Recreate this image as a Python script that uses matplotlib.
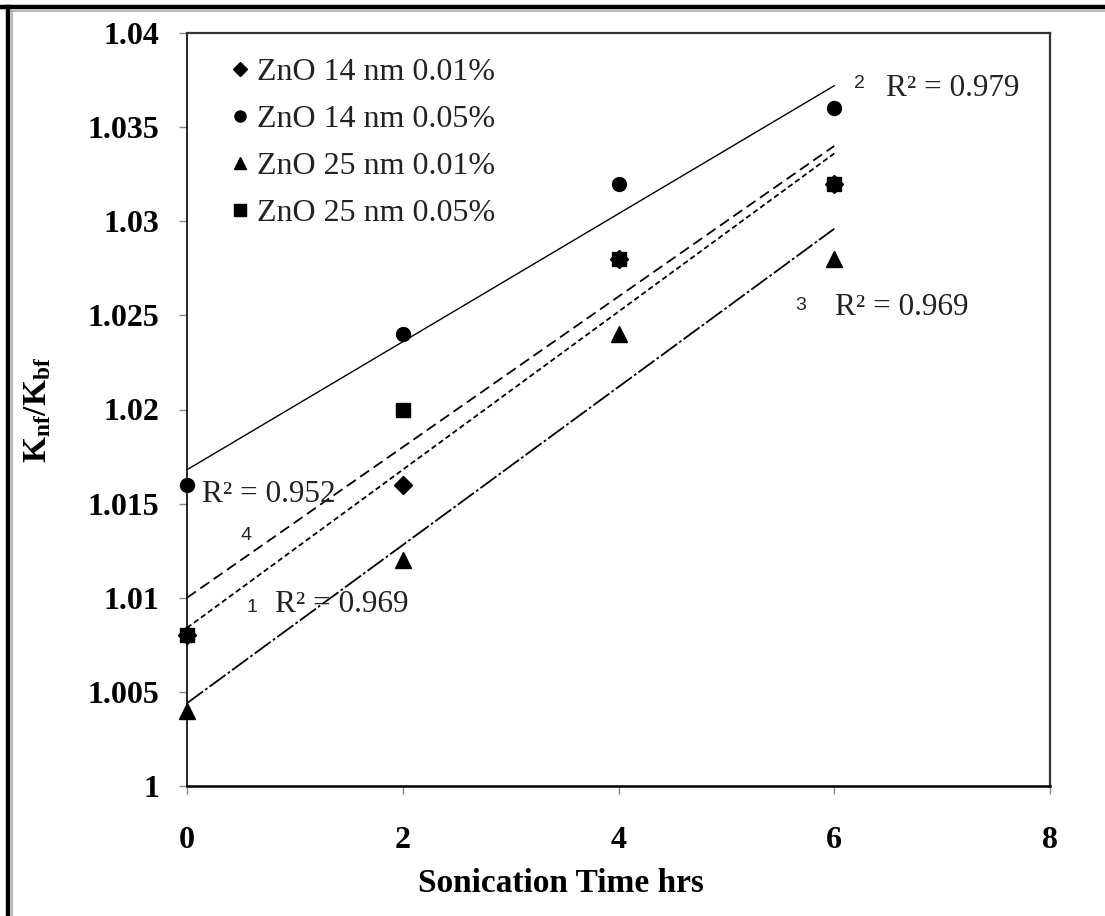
import numpy as np
import matplotlib
matplotlib.use("Agg")
import matplotlib.pyplot as plt
from matplotlib.lines import Line2D

plt.rcParams["font.family"] = ["Liberation Serif", "DejaVu Serif"]
plt.rcParams["mathtext.fontset"] = "custom"
plt.rcParams["mathtext.rm"] = "Liberation Serif"
plt.rcParams["mathtext.bf"] = "Liberation Serif:bold"

# Sonication time (hours) and conductivity ratio knf/kbf for each sample
time_hrs = [0, 2, 4, 6]
zno14_001 = [1.008, 1.016, 1.028, 1.032]
zno14_005 = [1.016, 1.024, 1.032, 1.036]
zno25_001 = [1.004, 1.012, 1.024, 1.028]
zno25_005 = [1.008, 1.020, 1.028, 1.032]

labels = ["ZnO 14 nm 0.01%", "ZnO 14 nm 0.05%", "ZnO 25 nm 0.01%", "ZnO 25 nm 0.05%"]
trend_ids = ["1", "2", "3", "4"]
r2_text = ["R\u00b2 = 0.969", "R\u00b2 = 0.979", "R\u00b2 = 0.969", "R\u00b2 = 0.952"]

x_ticks = [0, 2, 4, 6, 8]
y_ticks = [1.0, 1.005, 1.01, 1.015, 1.02, 1.025, 1.03, 1.035, 1.04]
y_tick_labels = ["1", "1.005", "1.01", "1.015", "1.02", "1.025", "1.03", "1.035", "1.04"]

series = [zno14_001, zno14_005, zno25_001, zno25_005]
markers = ["D", "o", "^", "s"]
msizes = [9.5, 10, 11, 10.5]
line_styles = [(0, (3, 1.8)), "-", (0, (11, 1.5, 1.5, 1.5)), (0, (6, 3))]
line_widths = [1.3, 1.0, 1.3, 1.3]

W, H = 1105, 916
fig = plt.figure(figsize=(W / 100, H / 100), dpi=100)
ax = fig.add_axes([187 / W, 1 - 786 / H, (1050 - 187) / W, (786 - 33) / H])

# scatter points
for ys, m, ms, lab in zip(series, markers, msizes, labels):
    ax.plot(time_hrs, ys, linestyle="none", marker=m, markersize=ms,
            color="black", label=lab, zorder=3, clip_on=False)

# linear trend lines over the measured range
x_fit = np.array([time_hrs[0], time_hrs[-1]], dtype=float)
for ys, ls, lw in zip(series, line_styles, line_widths):
    k, b = np.polyfit(time_hrs, ys, 1)
    ax.plot(x_fit, k * x_fit + b, linestyle=ls, linewidth=lw, color="black", zorder=2)

# trend-line numbers and R² values
num_pos = [(0.60, 1.00946), (6.237, 1.03734), (5.69, 1.02555), (0.547, 1.01333)]
r2_pos = [(0.816, 1.00965), (6.48, 1.03703), (6.006, 1.0254), (0.139, 1.0155)]
for tid, (nx, ny) in zip(trend_ids, num_pos):
    ax.text(nx, ny, tid, fontsize=14, family="Liberation Sans",
            ha="center", va="center", color="#222222")
for txt, (rx, ry) in zip(r2_text, r2_pos):
    ax.text(rx, ry, txt, fontsize=22.5, ha="left", va="center", color="#222222")

ax.set_xlim(0, 8)
ax.set_ylim(1.0, 1.04)
ax.set_xticks(x_ticks)
ax.set_xticklabels([str(v) for v in x_ticks])
ax.set_yticks(y_ticks)
ax.set_yticklabels(y_tick_labels)
for lab in ax.get_xticklabels() + ax.get_yticklabels():
    lab.set_fontweight("bold")
    lab.set_fontsize(23)
ax.tick_params(axis="y", direction="out", length=6, width=1, color="#888888", pad=14)
ax.tick_params(axis="x", direction="out", length=6, width=1, color="#888888", pad=23)

ax.spines["left"].set_linewidth(1.2)
ax.spines["bottom"].set_linewidth(1.8)
ax.spines["top"].set_linewidth(1.6)
ax.spines["right"].set_linewidth(1.6)
ax.spines["top"].set_color("#333333")
ax.spines["right"].set_color("#333333")

ax.set_xlabel("Sonication Time hrs", fontsize=24, fontweight="bold")
ax.xaxis.set_label_coords((561 - 187) / 863, (786 - 868) / 753)
ax.set_ylabel(r"$\mathbf{K_{nf}/K_{bf}}$", fontsize=24)
ax.yaxis.set_label_coords((53 - 187) / 863, 0.5)

leg = ax.legend(loc="upper left", bbox_to_anchor=(0.035, 0.984), frameon=False,
                fontsize=23, handlelength=0.6, handletextpad=0.25,
                labelspacing=0.55, markerscale=0.8, borderaxespad=0.0)
for t in leg.get_texts():
    t.set_color("#222222")

# outer frame along the top and left edges
fig.add_artist(Line2D([0, 1], [1 - 7 / H, 1 - 7 / H], transform=fig.transFigure,
                      color="black", linewidth=3.2))
fig.add_artist(Line2D([8 / W, 8 / W], [0, 1 - 7 / H], transform=fig.transFigure,
                      color="black", linewidth=3.2))
fig.add_artist(Line2D([11 / W, 1], [1 - 11 / H, 1 - 11 / H], transform=fig.transFigure,
                      color="#aaaaaa", linewidth=1.2))
fig.add_artist(Line2D([12 / W, 12 / W], [0, 1 - 11 / H], transform=fig.transFigure,
                      color="#aaaaaa", linewidth=1.2))

fig.savefig("out.png", dpi=100)
